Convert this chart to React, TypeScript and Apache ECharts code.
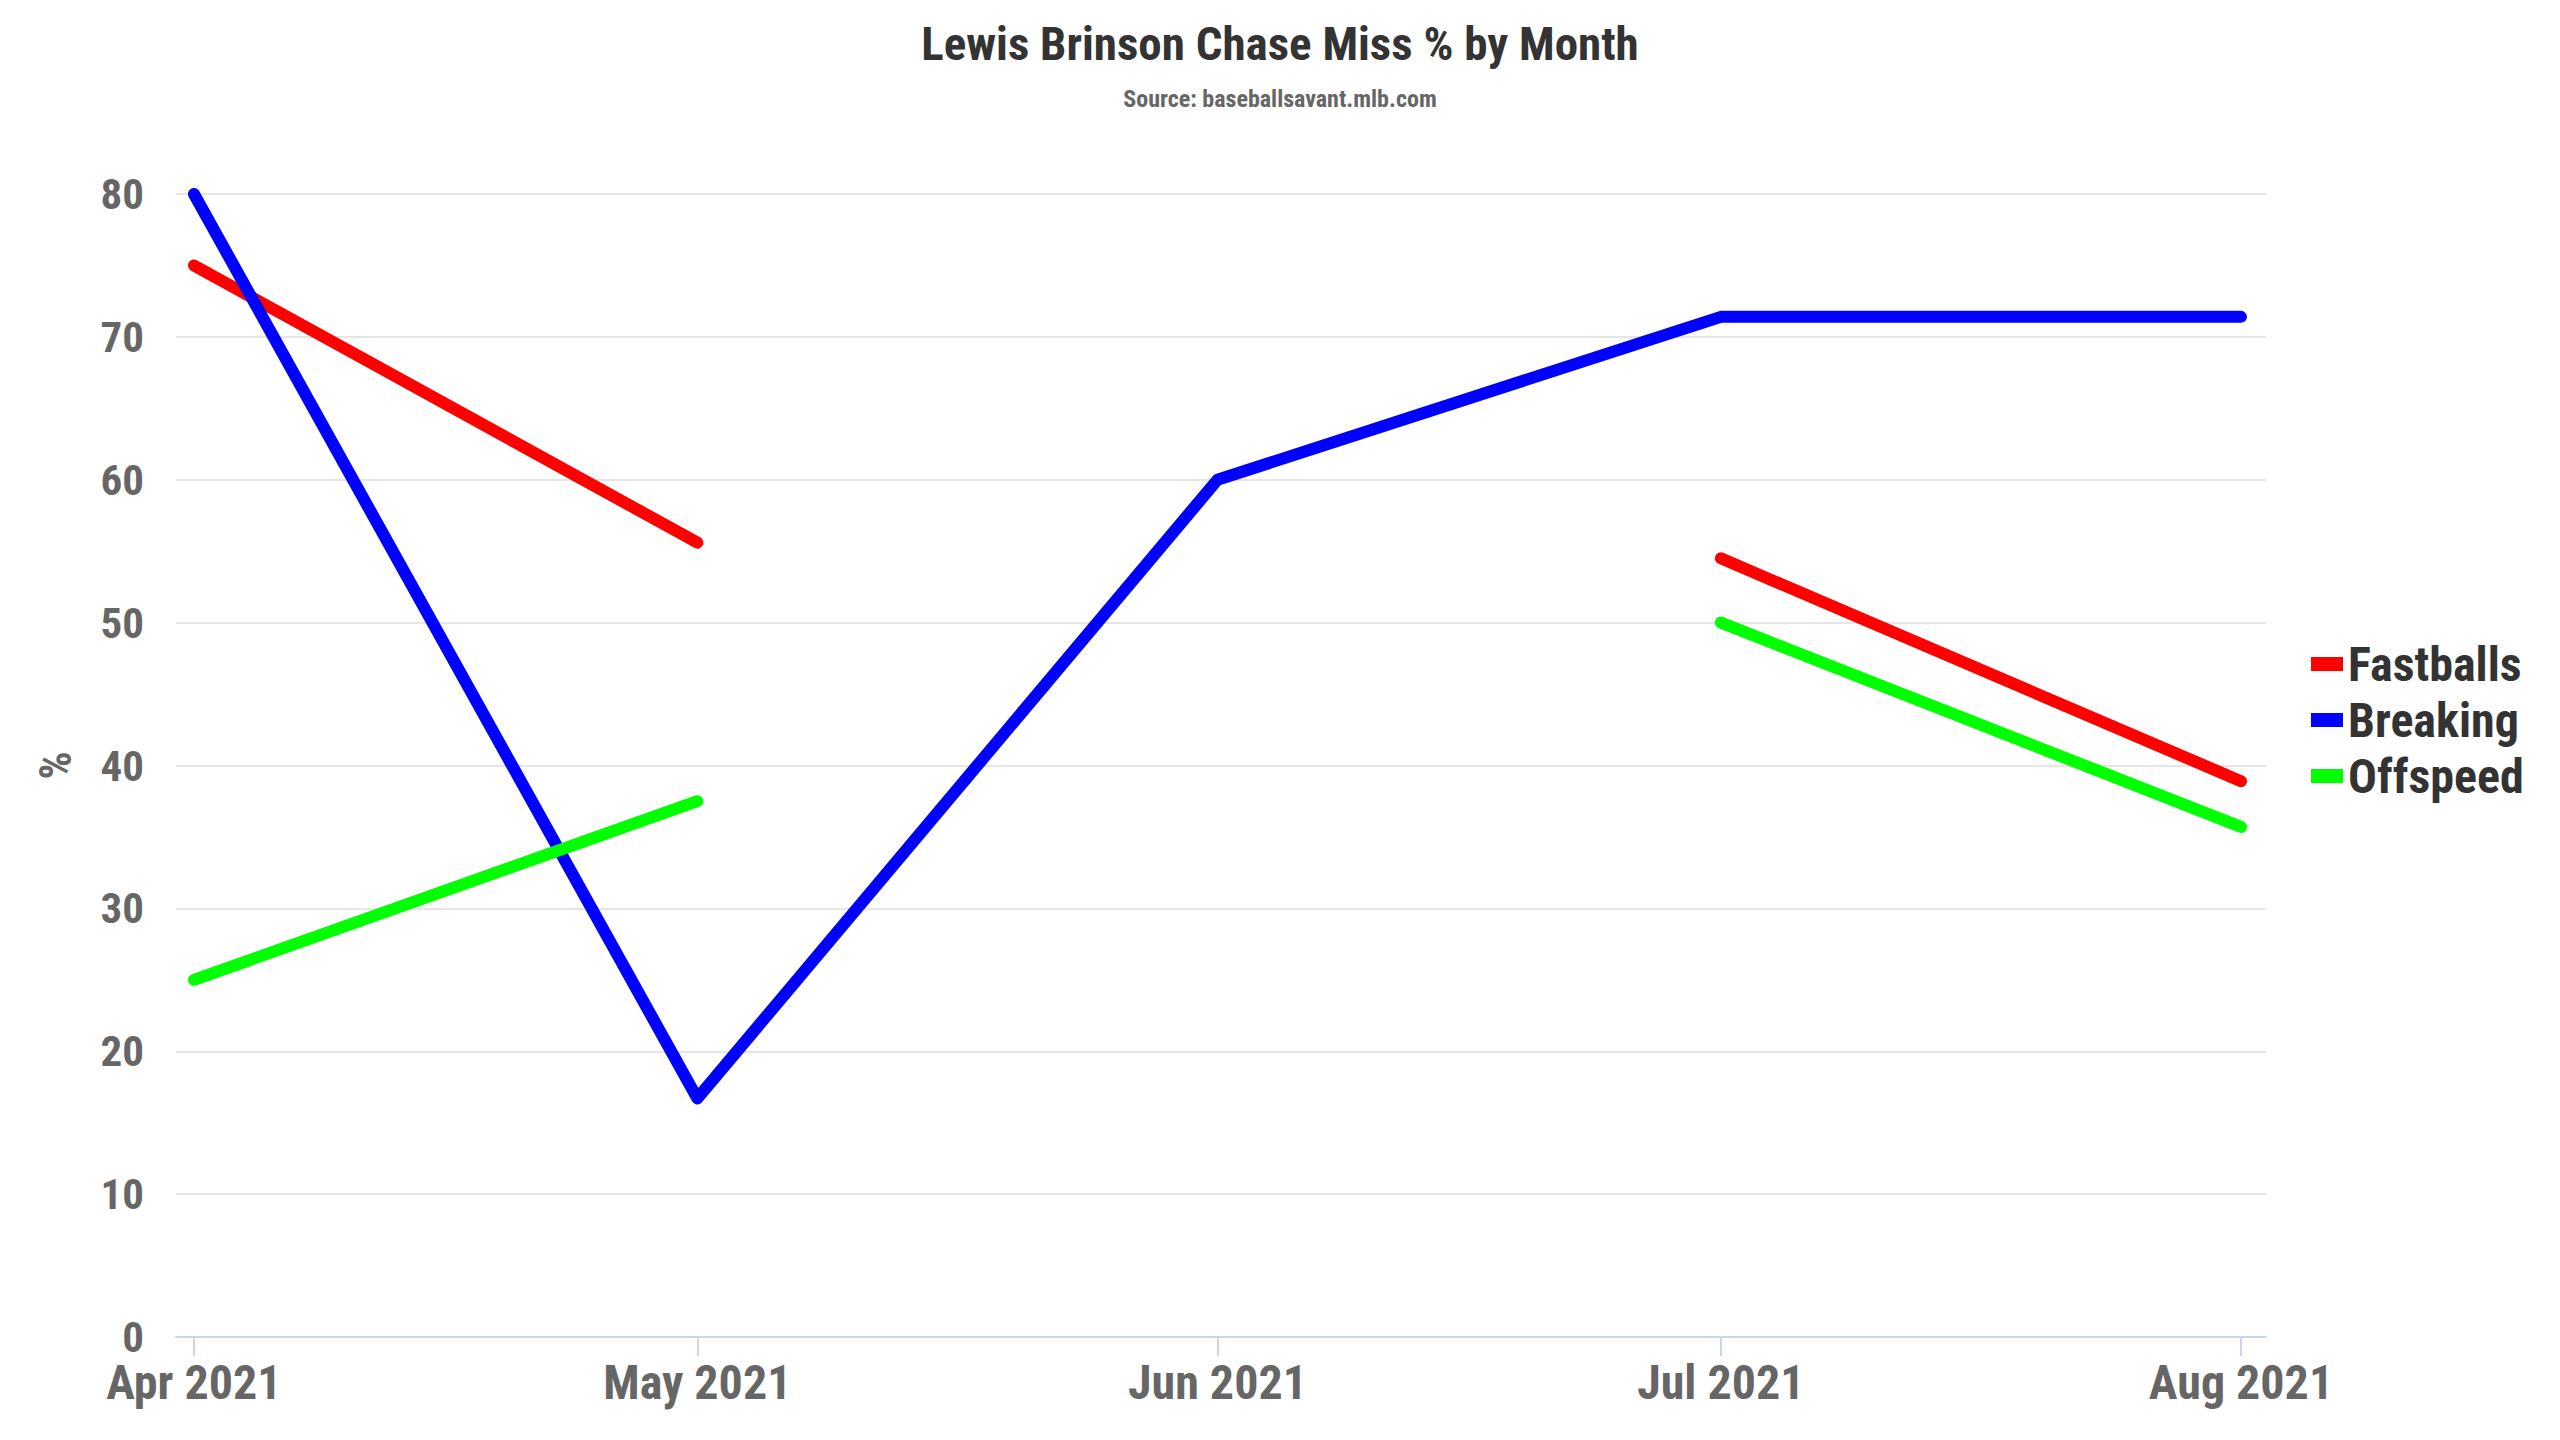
import React, { useEffect, useRef } from "react";
import * as echarts from "echarts";

const MONTHS = ["2021-04-01", "2021-05-01", "2021-06-01", "2021-07-01", "2021-08-01"];
const FASTBALLS = [75.0, 55.6, null, 54.5, 38.9];
const BREAKING = [80.0, 16.7, 60.0, 71.4, 71.4];
const OFFSPEED = [25.0, 37.5, null, 50.0, 35.7];
const MONTH_NAMES = ["Jan", "Feb", "Mar", "Apr", "May", "Jun", "Jul", "Aug", "Sep", "Oct", "Nov", "Dec"];
const Y_TICKS = [0, 10, 20, 30, 40, 50, 60, 70, 80];

const FONT = "'Roboto Condensed', 'Liberation Sans Narrow', 'DejaVu Sans Condensed', Roboto, sans-serif";
const DAY = 86400000;

function toTime(s: string) {
  const [y, m, d] = s.split("-").map(Number);
  return Date.UTC(y, m - 1, d);
}

export default function App() {
  const ref = useRef<HTMLDivElement>(null);
  useEffect(() => {
    document.body.style.margin = "0";
    const chart = echarts.init(ref.current!, undefined, { renderer: "svg" });
    const times = MONTHS.map(toTime);
    const mk = (vals: (number | null)[]) => times.map((t, i) => [t, vals[i]]);
    const lineSeries = (name: string, color: string, vals: (number | null)[]) => ({
      name,
      type: "line",
      data: mk(vals),
      showSymbol: false,
      connectNulls: false,
      color,
      lineStyle: { width: 12, color, cap: "round", join: "round" },
      itemStyle: { color },
    });
    chart.setOption({
      animation: false,
      backgroundColor: "#ffffff",
      textStyle: { fontFamily: FONT },
      title: {
        text: "Lewis Brinson Chase Miss % by Month",
        subtext: "Source: baseballsavant.mlb.com",
        left: "center",
        top: 15,
        itemGap: 20,
        textStyle: { fontFamily: FONT, fontSize: 47, fontWeight: "bold", color: "#333333" },
        subtextStyle: { fontFamily: FONT, fontSize: 24, fontWeight: "bold", color: "#666666" },
      },
      legend: {
        orient: "vertical",
        left: 2306,
        top: 634,
        icon: "rect",
        itemWidth: 32,
        itemHeight: 14,
        itemGap: 6,
        textStyle: { fontFamily: FONT, fontSize: 48, fontWeight: "bold", color: "#333333", lineHeight: 50 },
        data: ["Fastballs", "Breaking", "Offspeed"],
      },
      grid: { left: 176, right: 294, top: 194, bottom: 103, containLabel: false },
      xAxis: {
        type: "value",
        min: times[0] - 1.07 * DAY,
        max: times[times.length - 1] + 1.49 * DAY,
        splitLine: { show: false },
        axisLine: { lineStyle: { color: "#ccd6eb", width: 2 } },
        axisTick: { show: true, length: 19, customValues: times, lineStyle: { color: "#ccd6eb", width: 2 } },
        axisLabel: {
          customValues: times,
          fontFamily: FONT,
          fontSize: 48,
          lineHeight: 48,
          fontWeight: "bold",
          color: "#666666",
          margin: 21,
          hideOverlap: false,
          formatter: (v: number) => {
            const d = new Date(v);
            return MONTH_NAMES[d.getUTCMonth()] + " " + d.getUTCFullYear();
          },
        },
      },
      yAxis: {
        type: "value",
        min: Y_TICKS[0],
        max: Y_TICKS[Y_TICKS.length - 1],
        interval: 10,
        name: "%",
        nameLocation: "middle",
        nameRotate: 90,
        nameGap: 98,
        nameTextStyle: { fontFamily: FONT, fontSize: 44, fontWeight: "bold", color: "#666666" },
        axisLine: { show: false },
        axisTick: { show: false },
        splitLine: { lineStyle: { color: "#e6e6e6", width: 2 } },
        axisLabel: { fontFamily: FONT, fontSize: 43, lineHeight: 38, fontWeight: "bold", color: "#666666", margin: 32 },
      },
      series: [
        lineSeries("Fastballs", "#ff0000", FASTBALLS),
        lineSeries("Breaking", "#0000ff", BREAKING),
        lineSeries("Offspeed", "#00ff00", OFFSPEED),
      ],
    });
    return () => chart.dispose();
  }, []);
  return <div ref={ref} style={{ position: "fixed", left: 0, top: 0, width: 2560, height: 1440 }} />;
}
